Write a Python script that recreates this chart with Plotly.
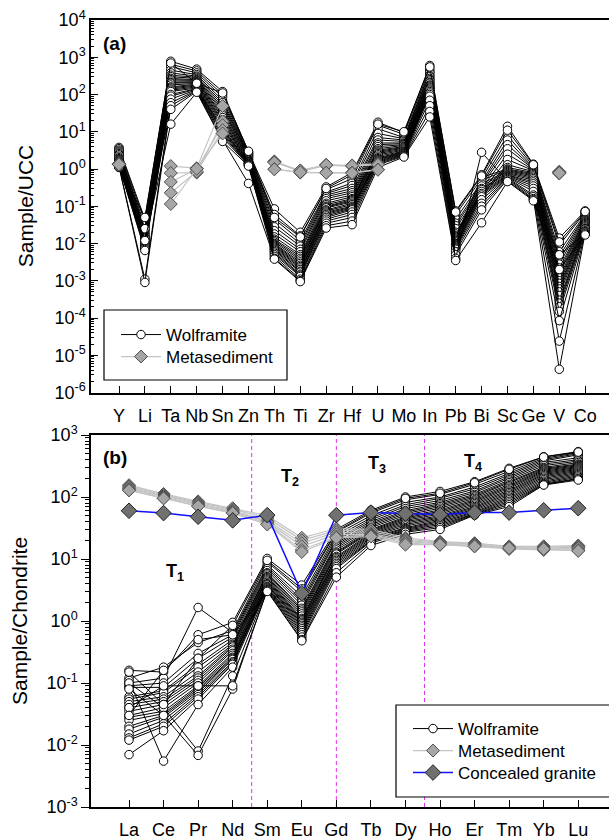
import plotly.graph_objects as go

# ---------------- data ----------------
ucc_elements = ["Y", "Li", "Ta", "Nb", "Sn", "Zn", "Th", "Ti", "Zr", "Hf",
                "U", "Mo", "In", "Pb", "Bi", "Sc", "Ge", "V", "Co"]
ree_elements = ["La", "Ce", "Pr", "Nd", "Sm", "Eu", "Gd", "Tb", "Dy", "Ho",
                "Er", "Tm", "Yb", "Lu"]

ucc_ticks = [1e-6, 1e-5, 1e-4, 1e-3, 1e-2, 1e-1, 1e0, 1e1, 1e2, 1e3, 1e4]
ucc_tick_text = ["10<sup>-6</sup>", "10<sup>-5</sup>", "10<sup>-4</sup>", "10<sup>-3</sup>",
                 "10<sup>-2</sup>", "10<sup>-1</sup>", "10<sup>0</sup>", "10<sup>1</sup>",
                 "10<sup>2</sup>", "10<sup>3</sup>", "10<sup>4</sup>"]
ree_ticks = [1e-3, 1e-2, 1e-1, 1e0, 1e1, 1e2, 1e3]
ree_tick_text = ["10<sup>-3</sup>", "10<sup>-2</sup>", "10<sup>-1</sup>", "10<sup>0</sup>",
                 "10<sup>1</sup>", "10<sup>2</sup>", "10<sup>3</sup>"]

# wolframite normalised to upper continental crust (one row per analysis)
wolframite_ucc = [
    [3.8, 0.045, 780, 480, 120, 2.9, 0.085, 0.020, 0.33, 0.80, 18, 9.5, 600, 0.075, 0.70, 14, 1.35, 0.014, 0.075],
    [3.5, 0.038, 650, 430, 100, 2.8, 0.060, 0.016, 0.28, 0.55, 15, 8.5, 480, 0.060, 0.55, 8.0, 1.20, 0.0090, 0.068],
    [3.2, 0.030, 560, 380, 85, 2.7, 0.045, 0.012, 0.24, 0.42, 12, 7.0, 420, 0.045, 0.45, 6.0, 1.10, 0.0060, 0.062],
    [3.0, 0.025, 450, 340, 70, 2.6, 0.035, 0.010, 0.22, 0.36, 9.0, 6.5, 380, 0.035, 0.40, 4.5, 1.05, 0.0045, 0.058],
    [2.8, 0.022, 380, 310, 60, 2.5, 0.028, 0.0085, 0.20, 0.30, 7.0, 6.0, 330, 0.030, 0.35, 3.5, 1.00, 0.0035, 0.055],
    [2.6, 0.020, 330, 290, 52, 2.4, 0.022, 0.0070, 0.18, 0.26, 6.0, 5.5, 300, 0.025, 0.30, 2.5, 0.95, 0.0028, 0.050],
    [2.4, 0.018, 300, 270, 45, 2.3, 0.018, 0.0060, 0.16, 0.23, 5.0, 5.0, 270, 0.020, 0.25, 1.8, 0.90, 0.0022, 0.046],
    [2.2, 0.016, 270, 250, 40, 2.2, 0.015, 0.0050, 0.14, 0.20, 4.5, 4.8, 250, 0.018, 0.22, 1.3, 0.85, 0.0018, 0.044],
    [2.0, 0.015, 250, 240, 35, 2.1, 0.013, 0.0045, 0.12, 0.18, 4.0, 4.5, 230, 0.016, 0.20, 1.1, 0.80, 0.0015, 0.042],
    [1.9, 0.014, 230, 230, 30, 2.0, 0.012, 0.0040, 0.11, 0.16, 3.5, 4.3, 210, 0.015, 0.60, 1.0, 0.75, 0.0012, 0.040],
    [1.8, 0.013, 210, 220, 27, 1.9, 0.011, 0.0036, 0.10, 0.15, 3.2, 4.0, 200, 0.014, 0.50, 0.95, 0.70, 0.0010, 0.038],
    [1.7, 0.012, 200, 210, 24, 1.8, 0.010, 0.0032, 0.095, 0.14, 3.0, 3.8, 180, 0.013, 0.40, 0.90, 0.65, 0.00085, 0.036],
    [1.6, 0.011, 180, 200, 21, 1.7, 0.0095, 0.0029, 0.090, 0.13, 2.8, 3.6, 170, 0.012, 0.35, 0.85, 0.60, 0.00070, 0.034],
    [1.55, 0.010, 160, 190, 19, 1.6, 0.0090, 0.0026, 0.080, 0.12, 2.6, 3.4, 160, 0.011, 0.30, 0.80, 0.55, 0.00060, 0.032],
    [1.5, 0.0095, 150, 180, 17, 1.55, 0.0085, 0.0024, 0.075, 0.11, 2.4, 3.2, 150, 0.010, 0.28, 0.75, 0.50, 0.00050, 0.030],
    [1.45, 0.0090, 140, 170, 15, 1.5, 0.0080, 0.0022, 0.070, 0.10, 2.2, 3.0, 140, 0.0095, 0.25, 0.70, 0.45, 0.00040, 0.028],
    [1.4, 0.0085, 130, 160, 13, 1.45, 0.0075, 0.0020, 0.065, 0.095, 2.0, 2.9, 130, 0.0090, 0.22, 0.68, 0.40, 0.00030, 0.026],
    [1.35, 0.0080, 120, 150, 12, 1.4, 0.0070, 0.0018, 0.060, 0.090, 1.9, 2.8, 120, 0.0085, 0.20, 0.65, 0.35, 0.00025, 0.025],
    [1.3, 0.0075, 100, 145, 11, 1.4, 0.0065, 0.0017, 0.055, 0.085, 1.8, 2.7, 110, 0.0080, 0.18, 0.62, 0.30, 0.00020, 0.024],
    [1.25, 0.0070, 90, 140, 10, 1.35, 0.0060, 0.0015, 0.050, 0.080, 1.7, 2.6, 100, 0.0075, 0.15, 0.60, 0.25, 0.00015, 0.022],
    [1.2, 0.0065, 75, 135, 9.0, 1.3, 0.0055, 0.0014, 0.045, 0.070, 1.6, 2.5, 90, 0.0070, 0.12, 0.58, 0.20, 0.000085, 0.021],
    [1.18, 0.0011, 60, 130, 8.0, 1.3, 0.0050, 0.0013, 0.040, 0.060, 1.5, 2.4, 70, 0.0060, 0.10, 0.55, 0.18, 0.000024, 0.020],
    [1.15, 0.0009, 50, 125, 7.0, 1.25, 0.0045, 0.0011, 0.035, 0.050, 1.4, 2.3, 50, 0.0050, 0.08, 0.52, 0.16, 0.0000042, 0.019],
    [1.12, 0.025, 40, 120, 6.0, 0.41, 0.0040, 0.0010, 0.030, 0.040, 1.3, 2.2, 35, 0.0040, 2.8, 0.48, 0.15, 0.0050, 0.018],
    [1.1, 0.012, 16, 115, 5.5, 1.2, 0.0038, 0.00095, 0.026, 0.032, 1.1, 2.1, 25, 0.0035, 0.036, 0.46, 0.14, 0.0020, 0.017],
    [1.15, 0.050, 700, 200, 110, 3.0, 0.050, 0.015, 0.30, 0.70, 16, 10, 550, 0.070, 0.65, 11, 1.30, 0.011, 0.072],
]

# metasediment normalised to upper continental crust (None = not determined)
metasediment_ucc = [
    [1.40, None, 1.20, 1.05, 49, None, 1.60, 0.90, 1.30, 1.25, 1.40, None, None, None, None, None, None, 0.85, None],
    [1.35, None, 0.78, 0.80, 19, None, 1.55, 0.85, 1.25, 1.20, 1.35, None, None, None, None, None, None, 0.82, None],
    [1.38, None, 0.45, 1.00, 15, None, 1.50, 0.92, 1.28, 1.22, 1.30, None, None, None, None, None, None, 0.80, None],
    [1.30, None, 0.23, 0.85, 11, None, 1.00, 0.80, 0.80, 0.80, 0.97, None, None, None, None, None, None, 0.76, None],
    [1.33, None, 0.115, 1.02, 9.0, None, 0.98, 0.82, 0.79, 0.78, 0.95, None, None, None, None, None, None, 0.78, None],
]

# REE normalised to chondrite
wolframite_ree = [
    [0.16, 0.15, 0.60, 0.95, 10.2, 3.8, 30, 61, 100, 123, 176, 290, 446, 540],
    [0.12, 0.18, 0.45, 0.70, 9.0, 3.0, 27, 55, 90, 110, 160, 260, 420, 520],
    [0.10, 0.12, 1.65, 0.65, 8.0, 2.5, 25, 50, 82, 100, 145, 240, 400, 500],
    [0.09, 0.10, 0.30, 0.60, 7.5, 2.2, 23, 46, 75, 95, 135, 225, 380, 480],
    [0.085, 0.085, 0.25, 0.55, 7.0, 2.0, 21, 43, 70, 88, 125, 210, 360, 430],
    [0.06, 0.075, 0.20, 0.50, 6.5, 1.8, 20, 40, 65, 82, 118, 200, 340, 400],
    [0.055, 0.07, 0.18, 0.45, 6.0, 1.6, 18, 38, 60, 78, 110, 190, 320, 380],
    [0.05, 0.06, 0.15, 0.42, 5.8, 1.5, 17, 36, 57, 74, 105, 180, 300, 360],
    [0.045, 0.055, 0.13, 0.40, 5.5, 1.4, 16, 34, 54, 70, 100, 170, 290, 340],
    [0.04, 0.05, 0.12, 0.38, 5.2, 1.3, 15, 32, 51, 66, 95, 160, 280, 330],
    [0.035, 0.045, 0.11, 0.35, 5.0, 1.2, 14, 30, 48, 62, 90, 152, 270, 320],
    [0.03, 0.04, 0.10, 0.33, 4.8, 1.1, 13, 29, 46, 59, 86, 145, 260, 310],
    [0.028, 0.035, 0.09, 0.30, 4.6, 1.05, 12.5, 28, 44, 56, 82, 138, 250, 300],
    [0.025, 0.032, 0.085, 0.28, 4.4, 1.0, 12, 27, 42, 53, 78, 130, 240, 290],
    [0.02, 0.03, 0.08, 0.26, 4.2, 0.95, 11, 26, 40, 50, 74, 124, 230, 280],
    [0.018, 0.028, 0.075, 0.25, 4.0, 0.9, 10.5, 25, 38, 48, 70, 118, 220, 270],
    [0.015, 0.025, 0.07, 0.24, 3.9, 0.85, 10, 24, 36, 46, 67, 112, 210, 260],
    [0.013, 0.022, 0.065, 0.22, 3.8, 0.8, 9.5, 23, 34, 44, 64, 106, 200, 250],
    [0.012, 0.020, 0.06, 0.21, 3.6, 0.75, 9, 22, 32, 42, 61, 100, 190, 240],
    [0.007, 0.017, 0.055, 0.20, 3.5, 0.7, 8.5, 21, 31, 40, 58, 95, 180, 230],
    [0.11, 0.0055, 0.045, 0.18, 3.4, 0.65, 8, 20, 30, 38, 56, 90, 172, 220],
    [0.10, 0.04, 0.008, 0.13, 3.3, 0.6, 7.5, 19.5, 29, 36, 54, 85, 165, 210],
    [0.08, 0.03, 0.0068, 0.08, 3.2, 0.55, 7, 19, 28, 34, 53, 80, 160, 200],
    [0.04, 0.09, 0.09, 0.09, 3.1, 0.5, 6, 18, 27, 32, 52, 75, 158, 195],
    [0.03, 0.16, 0.50, 0.60, 3.0, 0.48, 5.1, 16.5, 25, 30, 51, 70, 156, 188],
    [0.15, 0.045, 0.25, 0.85, 9.5, 3.3, 28, 58, 95, 115, 170, 280, 440, 530],
]

metasediment_ree = [
    [155, 112, 85, 66, 50, 22, 31, 30, 22, 19, 18, 16, 16, 16.5],
    [148, 108, 82, 63, 46, 20, 29, 28, 21, 18.5, 17.5, 15.5, 15.5, 16],
    [140, 104, 78, 60, 42, 18, 27, 26, 20, 18, 17, 15, 15, 15.5],
    [135, 100, 75, 58, 40, 16, 25, 25, 19, 17.5, 16.5, 15, 14.5, 15],
    [130, 96, 72, 56, 38, 14, 23, 24, 18, 17, 16, 14.5, 14, 14],
    [128, 95, 71, 55, 36, 13, 22, 23, 17, 17, 16, 15, 14.5, 13.5],
]

granite_ree = [60, 55, 48, 42, 51, 2.8, 51, 56, 54, 52, 56, 56, 61, 66]

# ---------------- styling ----------------
FONT = "Liberation Sans, Arial, sans-serif"
W_LINE = dict(color="black", width=1)
W_MARK = dict(symbol="circle", size=8.5, color="white", line=dict(color="black", width=1))
M_LINE = dict(color="#c4c4c4", width=1.2)
M_MARK = dict(symbol="diamond", size=10, color="#a6a6a6", line=dict(color="#505050", width=1))
G_LINE = dict(color="#1010ff", width=1.5)
G_MARK = dict(symbol="diamond", size=12, color="#707070", line=dict(color="#202020", width=1))

fig = go.Figure()

xa = list(range(len(ucc_elements)))
xb = list(range(len(ree_elements)))

# each legend entry lives in its own legend box so that rows can be placed freely
for i, row in enumerate(wolframite_ucc):
    fig.add_trace(go.Scatter(x=xa, y=row, mode="lines+markers", line=W_LINE, marker=W_MARK,
                             name="Wolframite", showlegend=(i == 0),
                             legend="legend", xaxis="x", yaxis="y"))
for i, row in enumerate(metasediment_ucc):
    fig.add_trace(go.Scatter(x=xa, y=row, mode="lines+markers", line=M_LINE, marker=M_MARK,
                             name="Metasediment", showlegend=(i == 0),
                             legend="legend2", xaxis="x", yaxis="y"))

for i, row in enumerate(wolframite_ree):
    fig.add_trace(go.Scatter(x=xb, y=row, mode="lines+markers", line=W_LINE, marker=W_MARK,
                             name="Wolframite", showlegend=(i == 0),
                             legend="legend3", xaxis="x2", yaxis="y2"))
for i, row in enumerate(metasediment_ree):
    fig.add_trace(go.Scatter(x=xb, y=row, mode="lines+markers", line=M_LINE, marker=M_MARK,
                             name="Metasediment", showlegend=(i == 0),
                             legend="legend4", xaxis="x2", yaxis="y2"))
fig.add_trace(go.Scatter(x=xb, y=granite_ree, mode="lines+markers", line=G_LINE, marker=G_MARK,
                         name="Concealed granite", showlegend=True,
                         legend="legend5", xaxis="x2", yaxis="y2"))

# ---------------- layout ----------------
L, T, B, WIDTH, HEIGHT = 91, 20, 33, 609, 840
PW, PH = WIDTH - L, HEIGHT - T - B


def px(x):
    return (x - L) / PW


def py(y):
    return (HEIGHT - B - y) / PH


tick_font = dict(family=FONT, size=18, color="black")
axis_common = dict(showline=True, linecolor="black", linewidth=1.5, showgrid=False,
                   zeroline=False, tickcolor="black", tickfont=tick_font)


def legend_row(xpix, ypix):
    return dict(x=px(xpix), y=py(ypix), xanchor="left", yanchor="middle",
                bgcolor="rgba(0,0,0,0)", borderwidth=0, itemwidth=40,
                font=dict(family=FONT, size=17, color="black"))


fig.update_layout(
    width=WIDTH, height=HEIGHT,
    margin=dict(l=L, r=0, t=T, b=B),
    paper_bgcolor="white", plot_bgcolor="white",
    font=dict(family=FONT, color="black"),
    xaxis=dict(domain=[0, 1], anchor="y", range=[-1.081, 18.92], tickmode="array",
               tickvals=xa, ticktext=ucc_elements, ticks="inside", ticklen=7,
               mirror=True, ticklabelstandoff=6, **axis_common),
    yaxis=dict(domain=[py(392.5), 1], anchor="x", type="log", range=[-6, 4],
               tickmode="array", tickvals=ucc_ticks, ticktext=ucc_tick_text,
               ticks="inside", ticklen=7,
               minor=dict(dtick="D1", ticks="inside", ticklen=3, tickcolor="black", showgrid=False),
               **axis_common),
    xaxis2=dict(domain=[0, 1], anchor="y2", range=[-1.10, 13.89], tickmode="array",
                tickvals=xb, ticktext=ree_elements, ticks="inside", ticklen=7,
                mirror=True, ticklabelstandoff=6, **axis_common),
    yaxis2=dict(domain=[0, py(435)], anchor="x2", type="log", range=[-3, 3],
                tickmode="array", tickvals=ree_ticks, ticktext=ree_tick_text,
                ticks="outside", ticklen=8,
                minor=dict(dtick="D1", ticks="outside", ticklen=4, tickcolor="black", showgrid=False),
                **axis_common),
    legend=legend_row(116, 335),
    legend2=legend_row(116, 357),
    legend3=legend_row(408, 729),
    legend4=legend_row(408, 751),
    legend5=legend_row(408, 773),
)

# dashed boundaries between the T1-T4 segments
for xv in [3.55, 6.0, 8.55]:
    fig.add_shape(type="line", xref="x2", yref="y2 domain", x0=xv, x1=xv, y0=0, y1=1,
                  line=dict(color="#e030f0", width=1, dash="4px,3px"), layer="below")

# legend frames
fig.add_shape(type="rect", xref="paper", yref="paper", x0=px(104), x1=px(287),
              y0=py(380), y1=py(310), line=dict(color="black", width=1.2),
              fillcolor="white", layer="above")
fig.add_shape(type="rect", xref="paper", yref="paper", x0=px(396), x1=1.03,
              y0=py(797), y1=py(705), line=dict(color="black", width=1.2),
              fillcolor="white", layer="above")

# panel letters
for label, ypix in [("(a)", 43), ("(b)", 457)]:
    fig.add_annotation(text=f"<b>{label}</b>", xref="paper", yref="paper",
                       x=px(101), y=py(ypix), xanchor="left", yanchor="middle",
                       showarrow=False, font=dict(family=FONT, size=19, color="black"))

# segment labels
for lab, xv, yv in [("T<sub>1</sub>", 1.33, 0.79), ("T<sub>2</sub>", 4.66, 2.32),
                    ("T<sub>3</sub>", 7.18, 2.52), ("T<sub>4</sub>", 9.96, 2.56)]:
    fig.add_annotation(text=f"<b>{lab}</b>", xref="x2", yref="y2", x=xv, y=yv,
                       showarrow=False, font=dict(family=FONT, size=18, color="black"))

# axis titles
fig.add_annotation(text="Sample/UCC", xref="paper", yref="paper", x=px(25),
                   y=(py(392.5) + 1) / 2, textangle=-90, showarrow=False,
                   xanchor="center", yanchor="middle",
                   font=dict(family=FONT, size=21, color="black"))
fig.add_annotation(text="Sample/Chondrite", xref="paper", yref="paper", x=px(19),
                   y=py(435) / 2, textangle=-90, showarrow=False,
                   xanchor="center", yanchor="middle",
                   font=dict(family=FONT, size=21, color="black"))

fig.write_html("out.html")
